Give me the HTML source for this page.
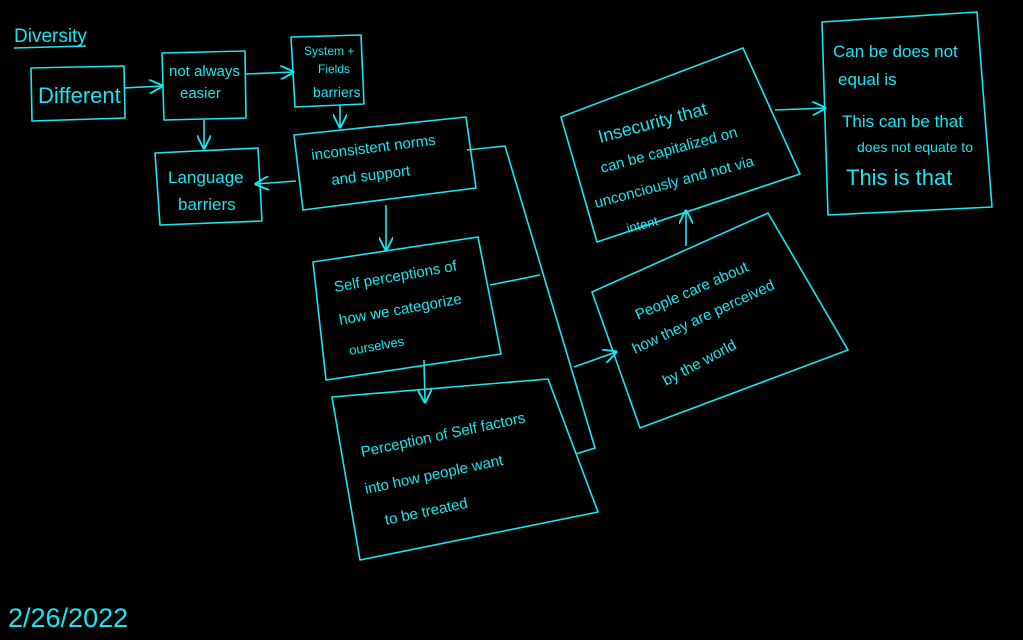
<!DOCTYPE html>
<html><head><meta charset="utf-8"><style>
html,body{margin:0;padding:0;background:#000;}
svg{display:block}
text{font-family:"Liberation Sans",sans-serif;fill:#19e6f0;}
</style></head><body>
<svg width="1023" height="640" viewBox="0 0 1023 640" xmlns="http://www.w3.org/2000/svg">
<defs><marker id="a" viewBox="0 0 10 10" refX="9" refY="5" markerWidth="9" markerHeight="9" orient="auto-start-reverse"><path d="M0,0 L10,5 L0,10" fill="none" stroke="#19e6f0" stroke-width="1.3"/></marker></defs>
<g fill="none" stroke="#19e6f0" stroke-width="1.6" stroke-linejoin="round">
<line x1="14" y1="48" x2="86" y2="46"/>
<polygon points="31,68 124,66 125,118 32,121"/>
<line x1="124" y1="88" x2="162" y2="86" marker-end="url(#a)"/>
<polygon points="162,53 245,51 246,118 164,120"/>
<line x1="246" y1="74" x2="293" y2="72" marker-end="url(#a)"/>
<polygon points="291,37 361,35 364,104 295,107"/>
<line x1="340" y1="105" x2="340" y2="127" marker-end="url(#a)"/>
<polygon points="294,135 466,117 476,188 303,210"/>
<line x1="204" y1="120" x2="204" y2="148" marker-end="url(#a)"/>
<polygon points="155,153 258,148 262,221 160,225"/>
<line x1="296" y1="181" x2="256" y2="184" marker-end="url(#a)"/>
<line x1="386" y1="205" x2="386" y2="250" marker-end="url(#a)"/>
<polygon points="313,262 478,237 501,354 326,380"/>
<line x1="424" y1="360" x2="425" y2="402" marker-end="url(#a)"/>
<polygon points="332,397 548,379 598,512 360,560"/>
<polyline points="467,150 505,146 595,448 576,454"/>
<line x1="490" y1="285" x2="540" y2="275"/>
<line x1="574" y1="367" x2="616" y2="352" marker-end="url(#a)"/>
<polygon points="592,292 768,213 848,350 640,428"/>
<line x1="686" y1="246" x2="686" y2="211" marker-end="url(#a)"/>
<polygon points="561,117 743,48 800,174 597,242"/>
<line x1="775" y1="110" x2="825" y2="108" marker-end="url(#a)"/>
<polygon points="822,22 977,12 992,207 828,215"/>
</g>
<text x="14" y="42" font-size="19">Diversity</text>
<text x="38" y="103" font-size="22">Different</text>
<text x="169" y="76" font-size="15">not always</text>
<text x="180" y="98" font-size="15">easier</text>
<text x="304" y="55" font-size="12">System +</text>
<text x="318" y="73" font-size="12">Fields</text>
<text x="313" y="97" font-size="14">barriers</text>
<text x="312" y="160" font-size="15" transform="rotate(-7 312 160)">inconsistent norms</text>
<text x="332" y="185" font-size="15" transform="rotate(-7 332 185)">and support</text>
<text x="168" y="183" font-size="17">Language</text>
<text x="178" y="210" font-size="17">barriers</text>
<text x="335" y="292" font-size="15" transform="rotate(-10 335 292)">Self  perceptions of</text>
<text x="340" y="325" font-size="15" transform="rotate(-10 340 325)">how we categorize</text>
<text x="350" y="355" font-size="13" transform="rotate(-10 350 355)">ourselves</text>
<text x="362" y="457" font-size="15" transform="rotate(-12 362 457)">Perception of Self factors</text>
<text x="366" y="494" font-size="15" transform="rotate(-12 366 494)">into how people  want</text>
<text x="386" y="525" font-size="15" transform="rotate(-12 386 525)">to be treated</text>
<text x="600" y="143" font-size="18" transform="rotate(-15 600 143)">Insecurity that</text>
<text x="602" y="173" font-size="15" transform="rotate(-15 602 173)">can be capitalized on</text>
<text x="596" y="208" font-size="15" transform="rotate(-15 596 208)">unconciously and not via</text>
<text x="628" y="233" font-size="13" transform="rotate(-15 628 233)">intent</text>
<text x="638" y="320" font-size="15" transform="rotate(-24 638 320)">People care about</text>
<text x="635" y="354" font-size="15" transform="rotate(-25 635 354)">how they are perceived</text>
<text x="666" y="386" font-size="15" transform="rotate(-28 666 386)">by the world</text>
<text x="833" y="57" font-size="17">Can be  does not</text>
<text x="838" y="85" font-size="17">equal is</text>
<text x="842" y="127" font-size="17">This can be that</text>
<text x="857" y="152" font-size="14">does not equate to</text>
<text x="846" y="185" font-size="22">This  is that</text>
<text x="8" y="627" font-size="27">2/26/2022</text>
</svg>
</body></html>
